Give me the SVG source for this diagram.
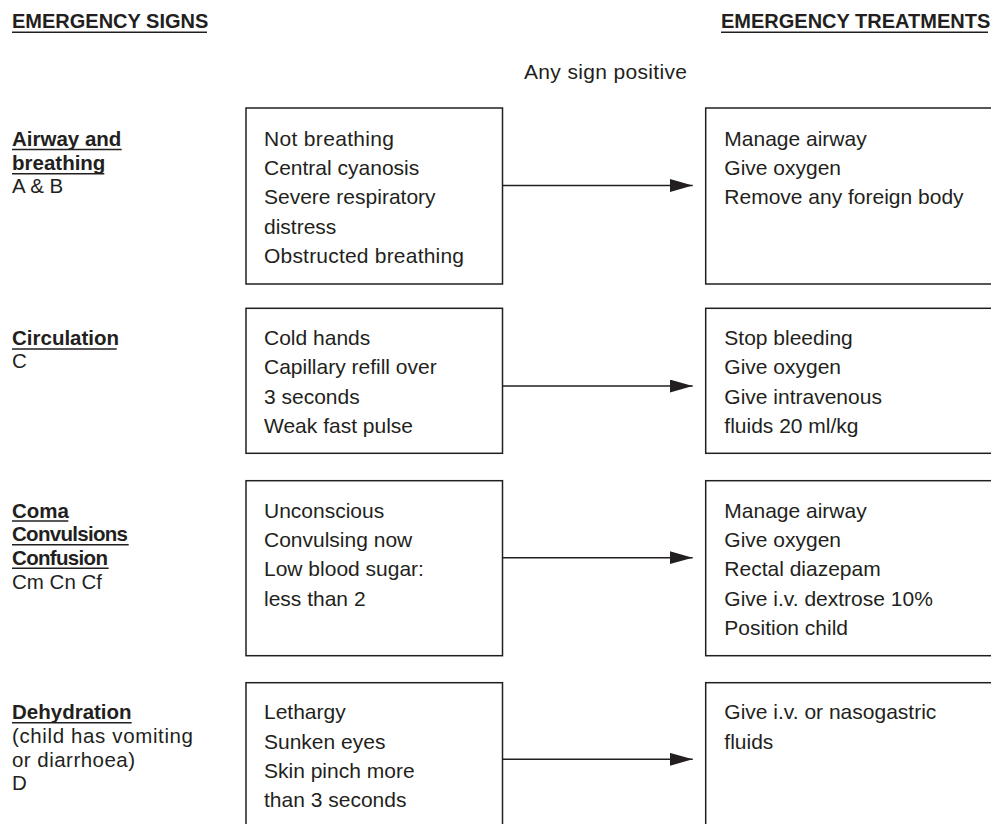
<svg xmlns="http://www.w3.org/2000/svg" width="991" height="824" viewBox="0 0 991 824">
<style>
text{font-family:"Liberation Sans",Arial,sans-serif;fill:#231f20}
.h{font-size:20px;font-weight:bold}
.lb{font-size:20.5px;font-weight:bold}
.lr{font-size:20.5px}
.t{font-size:21px}
.box{fill:none;stroke:#231f20;stroke-width:1.5}
.ul{stroke:#231f20;stroke-width:1.6}
.cn{stroke:#231f20;stroke-width:1.5;fill:none}
</style>
<defs>
<marker id="ah" markerUnits="userSpaceOnUse" markerWidth="24" markerHeight="14" refX="23" refY="6.5" orient="auto">
<path d="M0,0 L23,6.5 L0,13 Z" fill="#231f20"/>
</marker>
</defs>
<rect width="991" height="824" fill="#fff"/>
<g id="headers">
<text class="h" x="12" y="28.3">EMERGENCY SIGNS</text>
<line class="ul" x1="12" y1="32.3" x2="207" y2="32.3"/>
<text class="h" x="721" y="28.3">EMERGENCY TREATMENTS</text>
<line class="ul" x1="721" y1="32.3" x2="988" y2="32.3"/>
<text class="t" x="524" y="79" textLength="163">Any sign positive</text>
</g>
<g id="label-ab">
<text class="lb" x="12" y="145.7">Airway and</text>
<line class="ul" x1="12" y1="149.5" x2="121.7" y2="149.5"/>
<text class="lb" x="12" y="169.7">breathing</text>
<line class="ul" x1="12" y1="173.7" x2="104.3" y2="173.7"/>
<text class="lr" x="12" y="193.3">A &amp; B</text>
</g>
<g id="signs-ab">
<rect class="box" x="246" y="108" width="256.5" height="176"/>
<text class="t" x="264" y="145.7" textLength="130">Not breathing</text>
<text class="t" x="264" y="175">Central cyanosis</text>
<text class="t" x="264" y="204.3">Severe respiratory</text>
<text class="t" x="264" y="233.7">distress</text>
<text class="t" x="264" y="263" textLength="200">Obstructed breathing</text>
</g>
<g id="treat-ab">
<rect class="box" x="705.7" y="108" width="300" height="176"/>
<text class="t" x="724.3" y="145.7">Manage airway</text>
<text class="t" x="724.3" y="175">Give oxygen</text>
<text class="t" x="724.3" y="204.3">Remove any foreign body</text>
</g>
<g id="label-c">
<text class="lb" x="12" y="345">Circulation</text>
<line class="ul" x1="12" y1="349" x2="116.7" y2="349"/>
<text class="lr" x="12" y="368.3">C</text>
</g>
<g id="signs-c">
<rect class="box" x="246" y="308.3" width="256.5" height="145"/>
<text class="t" x="264" y="345">Cold hands</text>
<text class="t" x="264" y="374.3">Capillary refill over</text>
<text class="t" x="264" y="403.7">3 seconds</text>
<text class="t" x="264" y="433">Weak fast pulse</text>
</g>
<g id="treat-c">
<rect class="box" x="705.7" y="308.3" width="300" height="145"/>
<text class="t" x="724.3" y="345">Stop bleeding</text>
<text class="t" x="724.3" y="374.3">Give oxygen</text>
<text class="t" x="724.3" y="403.7">Give intravenous</text>
<text class="t" x="724.3" y="433">fluids 20 ml/kg</text>
</g>
<g id="label-cm">
<text class="lb" x="12" y="517.7">Coma</text>
<line class="ul" x1="12" y1="521" x2="68.3" y2="521"/>
<text class="lb" x="12" y="541.3" textLength="116">Convulsions</text>
<line class="ul" x1="12" y1="544.7" x2="128.7" y2="544.7"/>
<text class="lb" x="12" y="565" textLength="96">Confusion</text>
<line class="ul" x1="12" y1="568.3" x2="108.7" y2="568.3"/>
<text class="lr" x="12" y="589">Cm Cn Cf</text>
</g>
<g id="signs-cm">
<rect class="box" x="246" y="480.7" width="256.5" height="175"/>
<text class="t" x="264" y="517.7">Unconscious</text>
<text class="t" x="264" y="547">Convulsing now</text>
<text class="t" x="264" y="576.3">Low blood sugar:</text>
<text class="t" x="264" y="605.7">less than 2</text>
</g>
<g id="treat-cm">
<rect class="box" x="705.7" y="480.7" width="300" height="175"/>
<text class="t" x="724.3" y="517.7">Manage airway</text>
<text class="t" x="724.3" y="547">Give oxygen</text>
<text class="t" x="724.3" y="576.3">Rectal diazepam</text>
<text class="t" x="724.3" y="605.7">Give i.v. dextrose 10%</text>
<text class="t" x="724.3" y="635">Position child</text>
</g>
<g id="label-d">
<text class="lb" x="12" y="719.3">Dehydration</text>
<line class="ul" x1="12" y1="722.7" x2="131.7" y2="722.7"/>
<text class="lr" x="12" y="742.7" textLength="181">(child has vomiting</text>
<text class="lr" x="12" y="766.7" textLength="123">or diarrhoea)</text>
<text class="lr" x="12" y="790">D</text>
</g>
<g id="signs-d">
<rect class="box" x="246" y="682.7" width="256.5" height="160"/>
<text class="t" x="264" y="719.3">Lethargy</text>
<text class="t" x="264" y="749">Sunken eyes</text>
<text class="t" x="264" y="778">Skin pinch more</text>
<text class="t" x="264" y="806.7">than 3 seconds</text>
</g>
<g id="treat-d">
<rect class="box" x="705.7" y="682.7" width="300" height="160"/>
<text class="t" x="724.3" y="719.3">Give i.v. or nasogastric</text>
<text class="t" x="724.3" y="749">fluids</text>
</g>
<g id="connectors">
<line class="cn" x1="502.5" y1="185.5" x2="692.7" y2="185.5" marker-end="url(#ah)"/>
<line class="cn" x1="502.5" y1="386" x2="692.7" y2="386" marker-end="url(#ah)"/>
<line class="cn" x1="502.5" y1="557.7" x2="692.7" y2="557.7" marker-end="url(#ah)"/>
<line class="cn" x1="502.5" y1="759.3" x2="692.7" y2="759.3" marker-end="url(#ah)"/>
</g>
</svg>
